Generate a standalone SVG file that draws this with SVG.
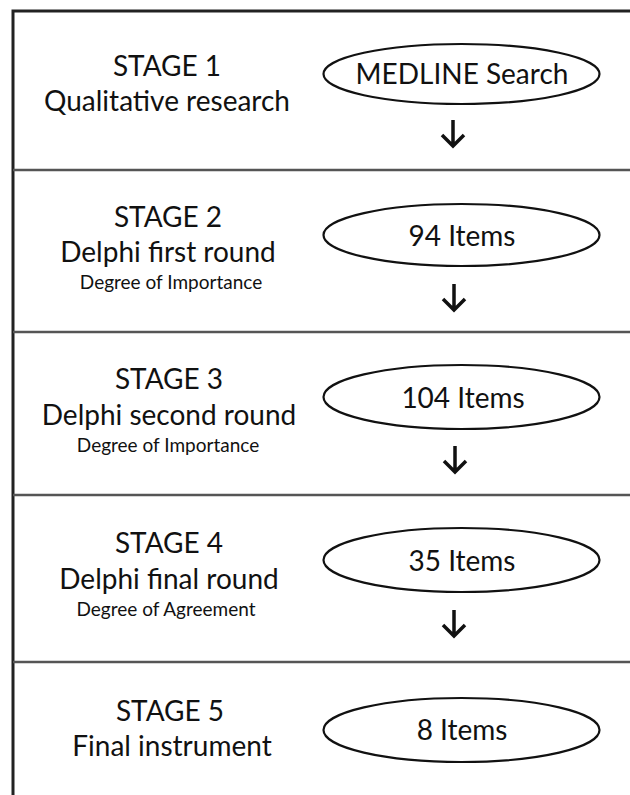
<svg xmlns="http://www.w3.org/2000/svg" width="630" height="795" viewBox="0 0 630 795">
<style>
.big{font-family:Lato,"Open Sans","Liberation Sans",sans-serif;font-size:28px;fill:#111;text-anchor:middle}
.small{font-family:Lato,"Open Sans","Liberation Sans",sans-serif;font-size:19px;fill:#111;text-anchor:middle}
.ell{fill:#fff;stroke:#111;stroke-width:2.2}
.div{stroke:#555;stroke-width:2.5;fill:none}
.frame{stroke:#222;stroke-width:3;fill:none}
.arr{stroke:#111;stroke-width:3.5;fill:none;stroke-linecap:butt;stroke-linejoin:miter}
</style>
<rect width="630" height="795" fill="#fff"/>
<g id="frame">
<path class="frame" d="M13,795 V11 H630"/>
<line class="div" x1="13" y1="170" x2="630" y2="170"/>
<line class="div" x1="13" y1="332" x2="630" y2="332"/>
<line class="div" x1="13" y1="495" x2="630" y2="495"/>
<line class="div" x1="13" y1="662" x2="630" y2="662"/>
</g>
<g id="stage1">
<text class="big" x="167" y="76">STAGE 1</text>
<text class="big" x="167" y="111">Qualitative research</text>
</g>
<g id="node1">
<ellipse class="ell" cx="461.5" cy="74" rx="138" ry="30"/>
<text class="big" x="462" y="84">MEDLINE Search</text>
</g>
<g id="stage2">
<text class="big" x="168" y="227">STAGE 2</text>
<text class="big" x="168" y="262">Delphi first round</text>
<text class="small" x="171" y="289">Degree of Importance</text>
</g>
<g id="node2">
<ellipse class="ell" cx="461.5" cy="235" rx="138" ry="31"/>
<text class="big" x="462" y="246">94 Items</text>
</g>
<g id="stage3">
<text class="big" x="169" y="389">STAGE 3</text>
<text class="big" x="169" y="425">Delphi second round</text>
<text class="small" x="168" y="452">Degree of Importance</text>
</g>
<g id="node3">
<ellipse class="ell" cx="461.5" cy="397" rx="138" ry="32"/>
<text class="big" x="463" y="408">104 Items</text>
</g>
<g id="stage4">
<text class="big" x="169" y="553">STAGE 4</text>
<text class="big" x="169" y="589">Delphi final round</text>
<text class="small" x="166" y="616">Degree of Agreement</text>
</g>
<g id="node4">
<ellipse class="ell" cx="461.5" cy="560" rx="138" ry="32"/>
<text class="big" x="462" y="571">35 Items</text>
</g>
<g id="stage5">
<text class="big" x="170" y="721">STAGE 5</text>
<text class="big" x="172" y="756">Final instrument</text>
</g>
<g id="node5">
<ellipse class="ell" cx="461.5" cy="730" rx="138" ry="32"/>
<text class="big" x="462" y="740">8 Items</text>
</g>
<g id="connectors">
<path class="arr" d="M453,120 V146 M442,135 L453,146 L464,135"/>
<path class="arr" d="M454,284 V310 M443,299 L454,310 L465,299"/>
<path class="arr" d="M455,446 V472 M444,461 L455,472 L466,461"/>
<path class="arr" d="M454,610 V636 M443,625 L454,636 L465,625"/>
</g>
</svg>
